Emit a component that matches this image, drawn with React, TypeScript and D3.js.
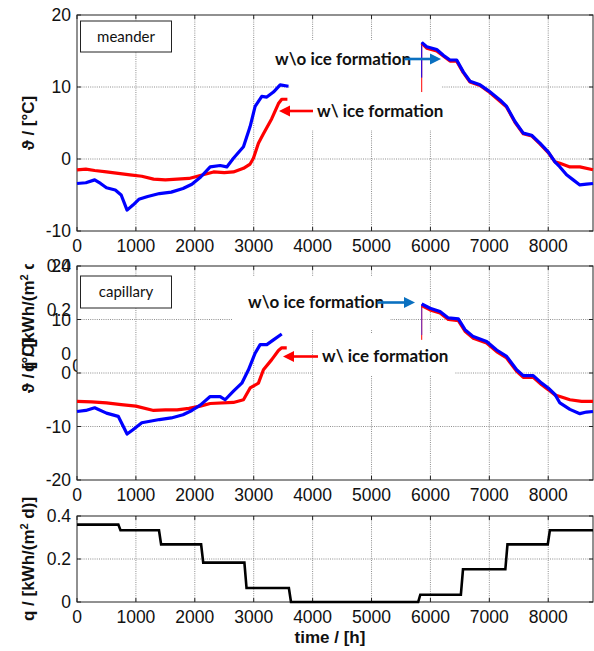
import React from "react";
import * as d3 from "d3";

type Pt = [number, number];

// ---------- axes ticks ----------
const timeTicks = [0, 1000, 2000, 3000, 4000, 5000, 6000, 7000, 8000];
const meanderTicks = [-10, 0, 10, 20];
const capillaryTicks = [-20, -10, 0, 10, 20];
const qTicks = [0, 0.2, 0.4];
const qTickLabels = ["0", "0.2", "0.4"];

// ---------- meander (top) ----------
const meanderIceA: Pt[] = [
  [0, -1.5], [150, -1.4], [300, -1.6], [500, -1.8], [700, -2.0], [900, -2.2], [1100, -2.4],
  [1300, -2.8], [1500, -2.9], [1700, -2.8], [1900, -2.7], [2092, -2.3], [2318, -1.8],
  [2500, -1.9], [2656, -1.8], [2826, -1.3], [2939, -0.7], [2995, 0.1], [3080, 2.2],
  [3165, 3.5], [3306, 5.6], [3420, 7.7], [3476, 8.3], [3572, 8.3],
];
const meanderNoIceA: Pt[] = [
  [0, -3.4], [150, -3.3], [300, -2.9], [400, -3.4], [500, -4.0], [650, -4.3], [750, -5.0],
  [850, -7.1], [950, -6.4], [1050, -5.6], [1200, -5.2], [1400, -4.8], [1600, -4.6],
  [1800, -4.1], [1950, -3.5], [2100, -2.5], [2261, -1.1], [2430, -0.9], [2543, -1.1],
  [2656, 0.1], [2826, 1.7], [2939, 4.5], [3024, 7.3], [3137, 8.7], [3222, 8.6],
  [3335, 9.3], [3449, 10.3], [3590, 10.1],
];
const meanderIceB: Pt[] = [
  [5852, 16.1], [5937, 15.4], [6107, 15.0], [6219, 14.3], [6332, 13.6], [6446, 13.6],
  [6558, 12.0], [6672, 10.7], [6842, 10.2], [6983, 9.4], [7181, 8.0], [7294, 7.2],
  [7435, 5.1], [7576, 3.5], [7718, 3.2], [7859, 2.1], [8000, 0.9], [8114, -0.4],
  [8198, -0.6], [8368, -1.1], [8537, -1.1], [8760, -1.5],
];
const meanderNoIceB: Pt[] = [
  [5852, 16.2], [5937, 15.6], [6107, 15.2], [6219, 14.4], [6332, 13.75], [6446, 13.75],
  [6558, 12.1], [6672, 10.8], [6842, 10.3], [6983, 9.5], [7181, 8.2], [7294, 7.3],
  [7435, 5.2], [7576, 3.6], [7718, 3.3], [7859, 2.2], [8000, 1.0], [8114, -0.4],
  [8198, -1.1], [8311, -2.2], [8424, -2.9], [8537, -3.6], [8650, -3.5], [8760, -3.4],
];
const meanderIceStart: Pt = [5852, 9.3];
const meanderNoIceStart: Pt = [5852, 11.3];

// ---------- capillary (middle) ----------
const capIceA: Pt[] = [
  [0, -5.3], [250, -5.4], [500, -5.6], [750, -5.9], [1000, -6.2], [1300, -7.0], [1500, -6.9],
  [1700, -6.9], [1900, -6.6], [2092, -6.2], [2261, -5.7], [2656, -5.5], [2826, -5.0],
  [2939, -2.8], [3080, -1.9], [3165, 0.6], [3306, 2.5], [3420, 4.2], [3476, 4.7], [3561, 4.7],
];
const capNoIceA: Pt[] = [
  [0, -7.2], [150, -7.0], [300, -6.5], [500, -7.5], [700, -8.1], [850, -11.4], [950, -10.6],
  [1100, -9.3], [1400, -8.7], [1600, -8.4], [1800, -7.8], [1950, -7.0], [2092, -6.0],
  [2261, -4.4], [2430, -4.4], [2515, -5.0], [2656, -3.4], [2798, -1.9], [2911, 0.6],
  [3024, 3.7], [3109, 5.3], [3222, 5.3], [3335, 6.2], [3476, 7.3],
];
const capIceB: Pt[] = [
  [5852, 12.6], [5994, 11.8], [6163, 11.2], [6304, 10.0], [6474, 9.8], [6587, 7.8],
  [6728, 6.5], [6954, 5.6], [7124, 4.0], [7294, 2.8], [7464, 0.3], [7576, -0.8],
  [7746, -0.8], [7888, -2.2], [8000, -3.1], [8114, -4.1], [8198, -4.4], [8368, -5.0],
  [8566, -5.3], [8760, -5.3],
];
const capNoIceB: Pt[] = [
  [5852, 12.9], [5994, 12.1], [6163, 11.5], [6304, 10.3], [6474, 10.1], [6587, 8.1],
  [6728, 6.8], [6954, 5.9], [7124, 4.3], [7294, 3.1], [7464, 0.6], [7576, -0.5],
  [7746, -0.5], [7888, -1.9], [8000, -2.8], [8114, -4.0], [8198, -5.6], [8368, -6.8],
  [8537, -7.6], [8650, -7.3], [8760, -7.2],
];
const capIceStart: Pt = [5852, 6.2];
const capNoIceStart: Pt = [5852, 7.1];

// ---------- heat flux q (bottom) ----------
const qBreaks = [0, 720, 1410, 2125, 2860, 3615, 5810, 6535, 7290, 8010, 8760];
const qLevels = [0.36, 0.334, 0.268, 0.183, 0.065, 0, 0.034, 0.152, 0.268, 0.334];

const FONT = "'Liberation Sans', Arial, Helvetica, sans-serif";
const ANN = "Lato, 'Open Sans', sans-serif";
const RED = "#ff0000";
const BLUE = "#0000ff";
const ARROW_BLUE = "#0a70c0";

const X0 = 77, X1 = 593;

function Arrow({ x1, x2, y, color }: { x1: number; x2: number; y: number; color: string }) {
  const dir = x2 > x1 ? 1 : -1;
  const hl = 11, hw = 5.5;
  return (
    <g>
      <line x1={x1} y1={y} x2={x2 - dir * hl} y2={y} stroke={color} strokeWidth={2.6} />
      <polygon points={`${x2},${y} ${x2 - dir * hl},${y - hw} ${x2 - dir * hl},${y + hw}`} fill={color} />
    </g>
  );
}

function Frame({ x, y, ticks, top, bottom, labels }: any) {
  const tl = 4;
  return (
    <g>
      {timeTicks.map((t) => (
        <g key={"x" + t}>
          <line x1={x(t)} x2={x(t)} y1={bottom} y2={bottom - tl} stroke="#222" strokeWidth={1} />
          <line x1={x(t)} x2={x(t)} y1={top} y2={top + tl} stroke="#222" strokeWidth={1} />
        </g>
      ))}
      {ticks.map((v: number) => (
        <g key={"y" + v}>
          <line x1={X0} x2={X0 + tl} y1={y(v)} y2={y(v)} stroke="#222" strokeWidth={1} />
          <line x1={X1} x2={X1 - tl} y1={y(v)} y2={y(v)} stroke="#222" strokeWidth={1} />
        </g>
      ))}
      <rect x={X0} y={top} width={X1 - X0} height={bottom - top} fill="none" stroke="#222" strokeWidth={1} />
      {timeTicks.map((t) => (
        <text key={"xl" + t} x={x(t)} y={bottom + 21} textAnchor="middle" fontFamily={FONT} fontSize={17.5} fill="#111">
          {t}
        </text>
      ))}
      {ticks.map((v: number, i: number) => (
        <text key={"yl" + v} x={71} y={y(v)} dy="0.36em" textAnchor="end" fontFamily={FONT} fontSize={17.5} fill="#111">
          {labels ? labels[i] : v}
        </text>
      ))}
    </g>
  );
}

function Grid({ x, y, ticks, top, bottom }: any) {
  return (
    <g stroke="#444" strokeWidth={0.8} strokeDasharray="1,1.2" opacity={0.75}>
      {timeTicks.filter((t) => t > 0).map((t) => (
        <line key={"gx" + t} x1={x(t)} x2={x(t)} y1={top} y2={bottom} />
      ))}
      {ticks.filter((v: number) => y(v) > top + 1 && y(v) < bottom - 1).map((v: number) => (
        <line key={"gy" + v} x1={X0} x2={X1} y1={y(v)} y2={y(v)} />
      ))}
    </g>
  );
}

export default function App() {
  const x = d3.scaleLinear().domain([0, 8760]).range([X0, X1]);
  const yTop = d3.scaleLinear().domain([-10, 20]).range([231, 15]);
  const yMid = d3.scaleLinear().domain([-20, 20]).range([480, 266]);
  const yBot = d3.scaleLinear().domain([0, 0.4]).range([602, 516]);
  const yHidden = d3.scaleLinear().domain([0, 0.4]).range([354, 266]);

  const lineTop = d3.line<Pt>().x((d) => x(d[0])).y((d) => yTop(d[1]));
  const lineMid = d3.line<Pt>().x((d) => x(d[0])).y((d) => yMid(d[1]));

  const qPts: Pt[] = [];
  qLevels.forEach((lv, i) => {
    const a = qBreaks[i] + (i === 0 ? 0 : 18);
    const b = qBreaks[i + 1] - (i === qLevels.length - 1 ? 0 : 18);
    qPts.push([a, lv], [b, lv]);
  });
  const lineBot = d3.line<Pt>().x((d) => x(d[0])).y((d) => yBot(d[1]));

  const ylab = (cx: number, cy: number, key: string, content: React.ReactNode) => (
    <text
      key={key}
      transform={`translate(${cx},${cy}) rotate(-90)`}
      textAnchor="middle"
      dy="0.35em"
      fontFamily={FONT}
      fontWeight="bold"
      fontSize={17}
      fill="#111"
    >
      {content}
    </text>
  );
  const qLabel = (
    <>
      q / [kWh/(m<tspan baselineShift="super" fontSize={11}>2</tspan> d)]
    </>
  );

  return (
    <svg width={594} height={651} style={{ position: "absolute", left: 0, top: 0, background: "#fff" }}>
      <defs>
        <clipPath id="qclip">
          <rect x={0} y={264} width={80} height={224} />
        </clipPath>
        <clipPath id="zclip">
          <rect x={60} y={350} width={17} height={30} />
        </clipPath>
      </defs>
      <rect x={0} y={0} width={594} height={651} fill="#fff" />

      {/* ================= TOP PANEL ================= */}
      <Grid x={x} y={yTop} ticks={meanderTicks} top={15} bottom={231} />
      <rect x={268} y={40} width={168} height={46} fill="#fff" />
      <rect x={290} y={86} width={152} height={44} fill="#fff" />
      <Frame x={x} y={yTop} ticks={meanderTicks} top={15} bottom={231} />
      <line x1={x(meanderIceStart[0])} x2={x(meanderIceStart[0])} y1={yTop(meanderIceStart[1])} y2={yTop(meanderIceB[0][1])} stroke={RED} strokeWidth={1} />
      <line x1={x(meanderNoIceStart[0])} x2={x(meanderNoIceStart[0])} y1={yTop(meanderNoIceStart[1])} y2={yTop(meanderNoIceB[0][1])} stroke={BLUE} strokeWidth={1} />
      {[meanderIceA, meanderIceB].map((d, i) => (
        <path key={"mr" + i} d={lineTop(d) || ""} fill="none" stroke={RED} strokeWidth={3.2} strokeLinejoin="round" />
      ))}
      {[meanderNoIceA, meanderNoIceB].map((d, i) => (
        <path key={"mb" + i} d={lineTop(d) || ""} fill="none" stroke={BLUE} strokeWidth={3.2} strokeLinejoin="round" />
      ))}
      <text x={275} y={59} dy="0.35em" fontFamily={ANN} fontWeight="bold" fontSize={17} fill="#111">w\o ice formation</text>
      <Arrow x1={405} x2={441} y={59} color={ARROW_BLUE} />
      <text x={317} y={111} dy="0.35em" fontFamily={ANN} fontWeight="bold" fontSize={17} fill="#111">w\ ice formation</text>
      <Arrow x1={313} x2={279} y={111} color={RED} />
      <rect x={80.5} y={21} width={91} height={31} fill="#fff" stroke="#222" strokeWidth={1} />
      <text x={126} y={36.5} dy="0.35em" textAnchor="middle" fontFamily={ANN} fontSize={15} fill="#111">meander</text>
      {ylab(28, 123, "yl1", "ϑ / [°C]")}

      {/* ============ hidden q-axis artefacts behind middle panel ============ */}
      {qTicks.map((v, i) => (
        <text key={"hq" + v} x={71} y={yHidden(v)} dy="0.36em" textAnchor="end" fontFamily={FONT} fontSize={17.5} fill="#111">
          {qTickLabels[i]}
        </text>
      ))}
      <g clipPath="url(#zclip)">
        <text x={x(0)} y={372} textAnchor="middle" fontFamily={FONT} fontSize={17.5} fill="#111">0</text>
      </g>
      <g clipPath="url(#qclip)">{ylab(28, 310, "ylq", qLabel)}</g>

      {/* ================= MIDDLE PANEL ================= */}
      <Grid x={x} y={yMid} ticks={capillaryTicks} top={266} bottom={480} />
      <rect x={233} y={277} width={157} height={53} fill="#fff" />
      <rect x={313} y={333} width={142} height={43} fill="#fff" />
      <Frame x={x} y={yMid} ticks={capillaryTicks} top={266} bottom={480} />
      <line x1={x(capIceStart[0])} x2={x(capIceStart[0])} y1={yMid(capIceStart[1])} y2={yMid(capIceB[0][1])} stroke={RED} strokeWidth={1} />
      <line x1={x(capNoIceStart[0])} x2={x(capNoIceStart[0])} y1={yMid(capNoIceStart[1])} y2={yMid(capNoIceB[0][1])} stroke="#6633cc" strokeWidth={1} />
      {[capIceA, capIceB].map((d, i) => (
        <path key={"cr" + i} d={lineMid(d) || ""} fill="none" stroke={RED} strokeWidth={3.2} strokeLinejoin="round" />
      ))}
      {[capNoIceA, capNoIceB].map((d, i) => (
        <path key={"cb" + i} d={lineMid(d) || ""} fill="none" stroke={BLUE} strokeWidth={3.2} strokeLinejoin="round" />
      ))}
      <text x={248} y={302.5} dy="0.35em" fontFamily={ANN} fontWeight="bold" fontSize={17} fill="#111">w\o ice formation</text>
      <Arrow x1={378} x2={415} y={302.5} color={ARROW_BLUE} />
      <text x={322} y={356.5} dy="0.35em" fontFamily={ANN} fontWeight="bold" fontSize={17} fill="#111">w\ ice formation</text>
      <Arrow x1={318} x2={283} y={356.5} color={RED} />
      <rect x={80.5} y={276} width={91} height={32} fill="#fff" stroke="#222" strokeWidth={1} />
      <text x={126} y={292} dy="0.35em" textAnchor="middle" fontFamily={ANN} fontSize={15} fill="#111">capillary</text>
      {ylab(28, 366, "yl2", "ϑ / [°C]")}

      {/* ================= BOTTOM PANEL ================= */}
      <Grid x={x} y={yBot} ticks={qTicks} top={516} bottom={602} />
      <Frame x={x} y={yBot} ticks={qTicks} top={516} bottom={602} labels={qTickLabels} />
      <path d={lineBot(qPts) || ""} fill="none" stroke="#000" strokeWidth={2.6} strokeLinejoin="miter" />
      {ylab(28, 559, "yl3", qLabel)}
      <text x={330} y={643} textAnchor="middle" fontFamily={FONT} fontWeight="bold" fontSize={17} fill="#111">time / [h]</text>
    </svg>
  );
}
